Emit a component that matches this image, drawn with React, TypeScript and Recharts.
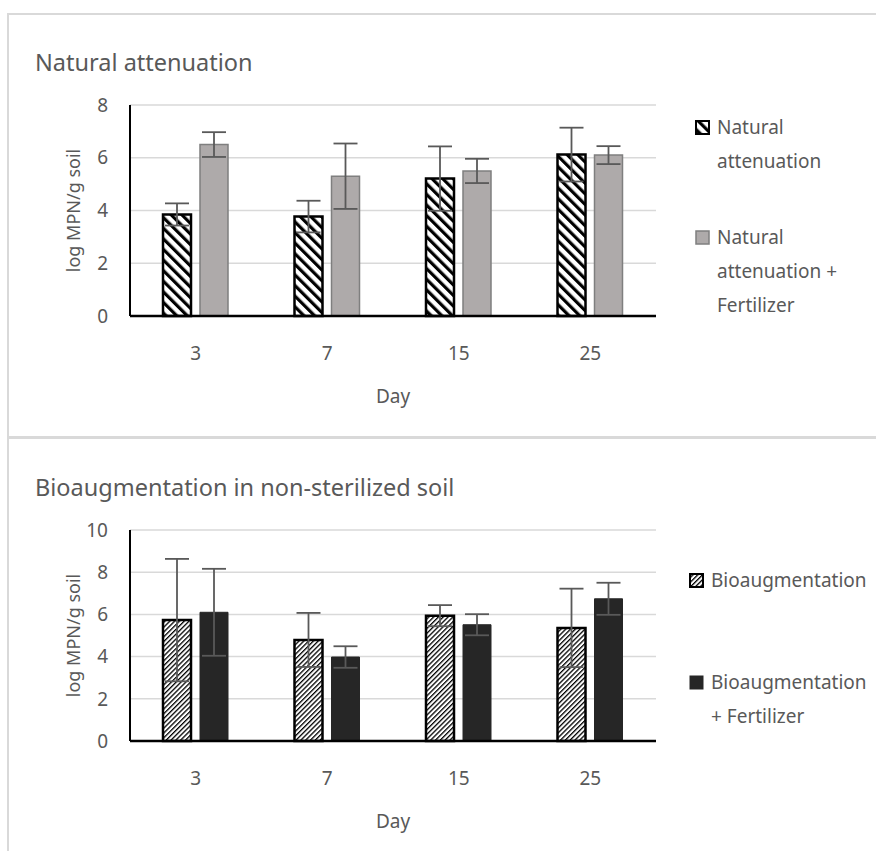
import React from "react";
import { BarChart, Bar, XAxis, YAxis, CartesianGrid, ErrorBar } from "recharts";

const TEXT = "#595959";
const GRID = "#d9d9d9";
const ERR = "#595959";
const FONT = "'Noto Sans', 'Open Sans', sans-serif";

const DAYS = ["3", "7", "15", "25"];

// Natural attenuation, log MPN/g soil (mean, +/- error)
const NA_MEAN = [3.85, 3.77, 5.21, 6.12];
const NA_ERR = [0.42, 0.6, 1.22, 1.02];
const NAF_MEAN = [6.5, 5.3, 5.5, 6.1];
const NAF_ERR = [0.47, 1.24, 0.46, 0.34];

// Bioaugmentation in non-sterilized soil
const BIO_MEAN = [5.73, 4.79, 5.94, 5.36];
const BIO_ERR = [2.9, 1.28, 0.5, 1.86];
const BIOF_MEAN = [6.1, 3.98, 5.51, 6.74];
const BIOF_ERR = [2.06, 0.51, 0.5, 0.76];

const TICKS_TOP = [0, 2, 4, 6, 8];
const TICKS_BOTTOM = [0, 2, 4, 6, 8, 10];

const topData = DAYS.map((day, i) => ({
  day,
  a: NA_MEAN[i],
  aErr: NA_ERR[i],
  b: NAF_MEAN[i],
  bErr: NAF_ERR[i],
}));

const bottomData = DAYS.map((day, i) => ({
  day,
  a: BIO_MEAN[i],
  aErr: BIO_ERR[i],
  b: BIOF_MEAN[i],
  bErr: BIOF_ERR[i],
}));

type Series = {
  key: string;
  name: string;
  fill: string;
  stroke: string;
  strokeWidth: number;
};

const topSeries: Series[] = [
  { key: "a", name: "Natural attenuation", fill: "url(#hatchWide)", stroke: "#000", strokeWidth: 2.5 },
  { key: "b", name: "Natural attenuation + Fertilizer", fill: "#aeaaaa", stroke: "#7f7f7f", strokeWidth: 1.5 },
];

const bottomSeries: Series[] = [
  { key: "a", name: "Bioaugmentation", fill: "url(#hatchFine)", stroke: "#000", strokeWidth: 2.5 },
  { key: "b", name: "Bioaugmentation + Fertilizer", fill: "#262626", stroke: "#262626", strokeWidth: 1 },
];

function YLabel({ viewBox }: any) {
  const cx = viewBox.x + 73;
  const cy = viewBox.y + viewBox.height / 2;
  return (
    <text
      x={cx}
      y={cy}
      transform={`rotate(-90 ${cx} ${cy})`}
      textAnchor="middle"
      dominantBaseline="central"
      fill={TEXT}
      fontSize={18}
    >
      log MPN/g soil
    </text>
  );
}

function LegendBox({ series, left, tops }: { series: Series[]; left: number; tops: number[] }) {
  return (
    <>
      {series.map((s, i) => (
        <div
          key={s.key}
          style={{ position: "absolute", left, top: tops[i], display: "flex", alignItems: "flex-start" }}
        >
          <svg width={15} height={15} style={{ marginTop: 10, marginRight: 7, flex: "none" }}>
            <rect
              x={1}
              y={1}
              width={13}
              height={13}
              fill={s.fill}
              stroke={s.stroke}
              strokeWidth={Math.min(s.strokeWidth, 2)}
            />
          </svg>
          <div style={{ width: 152, fontSize: 19, lineHeight: "34px", color: TEXT }}>{s.name}</div>
        </div>
      ))}
    </>
  );
}

function Panel({
  top,
  height,
  title,
  data,
  ticks,
  series,
  legendLeft,
  legendTops,
}: {
  top: number;
  height: number;
  title: string;
  data: any[];
  ticks: number[];
  series: Series[];
  legendLeft: number;
  legendTops: number[];
}) {
  const yMax = ticks[ticks.length - 1];
  return (
    <div style={{ position: "absolute", left: 0, top, width: 876, height }}>
      <div style={{ position: "absolute", left: 35, top: 33, fontSize: 23.5, lineHeight: "30px", color: TEXT }}>
        {title}
      </div>
      <BarChart
        width={876}
        height={height}
        data={data}
        margin={{ top: 91, right: 220, bottom: height - 302 - 90, left: 0 }}
        barSize={28}
        barGap={9}
      >
        <CartesianGrid vertical={false} stroke={GRID} strokeWidth={1.5} />
        <XAxis
          dataKey="day"
          axisLine={{ stroke: "#000", strokeWidth: 2.5 }}
          tickLine={false}
          tickSize={0}
          tickMargin={31}
          tick={{ fill: TEXT, fontSize: 19 }}
          height={90}
          label={{ value: "Day", position: "insideBottom", offset: 3, fill: TEXT, fontSize: 19 }}
        />
        <YAxis
          domain={[0, yMax]}
          ticks={ticks}
          interval={0}
          width={130}
          axisLine={{ stroke: "#000", strokeWidth: 2 }}
          tickLine={false}
          tickSize={0}
          tickMargin={22}
          tick={{ fill: TEXT, fontSize: 19 }}
          label={<YLabel />}
        />
        {series.map((s) => (
          <Bar
            key={s.key}
            dataKey={s.key}
            name={s.name}
            fill={s.fill}
            stroke={s.stroke}
            strokeWidth={s.strokeWidth}
            isAnimationActive={false}
          >
            <ErrorBar dataKey={s.key + "Err"} width={12} strokeWidth={1.8} stroke={ERR} direction="y" />
          </Bar>
        ))}
      </BarChart>
      <LegendBox series={series} left={legendLeft} tops={legendTops} />
    </div>
  );
}

export default function App() {
  return (
    <div
      style={{
        position: "absolute",
        left: 0,
        top: 0,
        width: 876,
        height: 851,
        background: "#fff",
        fontFamily: FONT,
        overflow: "hidden",
      }}
    >
      {/* hatch fills shared by bars and legend markers */}
      <svg width={0} height={0} style={{ position: "absolute" }}>
        <defs>
          <pattern id="hatchWide" patternUnits="userSpaceOnUse" width={7.5} height={7.5} patternTransform="rotate(-45)">
            <rect width={7.5} height={7.5} fill="#fff" />
            <rect width={3.2} height={7.5} fill="#000" />
          </pattern>
          <pattern id="hatchFine" patternUnits="userSpaceOnUse" width={3.4} height={3.4} patternTransform="rotate(45)">
            <rect width={3.4} height={3.4} fill="#fff" />
            <rect width={1.3} height={3.4} fill="#000" />
          </pattern>
        </defs>
      </svg>

      {/* panel frames */}
      <div
        style={{
          position: "absolute",
          left: 7,
          top: 13,
          width: 869,
          height: 423,
          borderTop: `2px solid ${GRID}`,
          borderLeft: `2px solid ${GRID}`,
        }}
      />
      <div
        style={{
          position: "absolute",
          left: 7,
          top: 436,
          width: 869,
          height: 415,
          borderTop: `3px solid ${GRID}`,
          borderLeft: `2px solid ${GRID}`,
        }}
      />

      <Panel
        top={14}
        height={423}
        title="Natural attenuation"
        data={topData}
        ticks={TICKS_TOP}
        series={topSeries}
        legendLeft={695}
        legendTops={[96, 206]}
      />
      <Panel
        top={439}
        height={412}
        title="Bioaugmentation in non-sterilized soil"
        data={bottomData}
        ticks={TICKS_BOTTOM}
        series={bottomSeries}
        legendLeft={689}
        legendTops={[124, 226]}
      />
    </div>
  );
}
